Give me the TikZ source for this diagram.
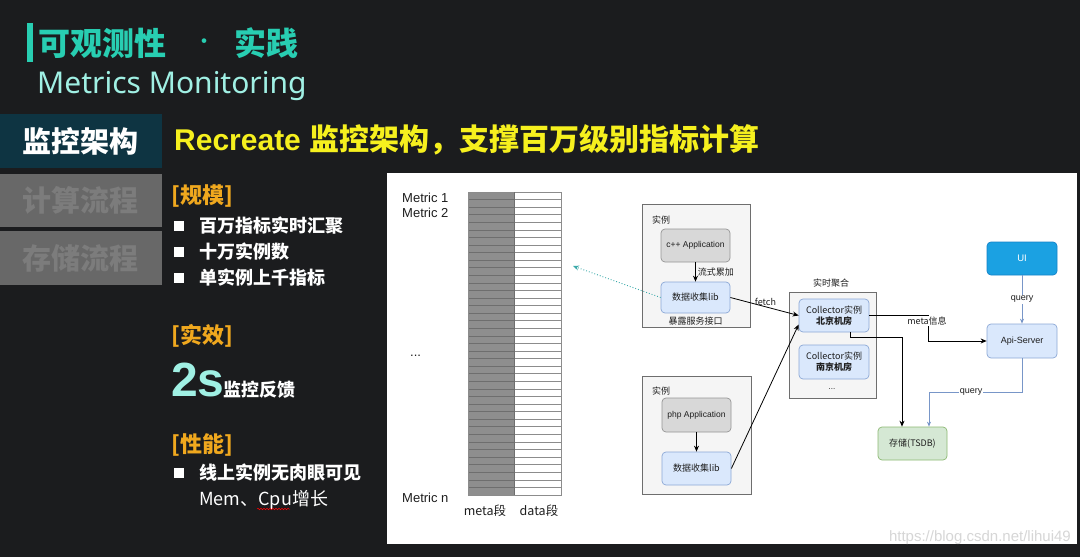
\documentclass[tikz,border=0pt]{standalone}
\usepackage{fontspec}
\setmainfont{Liberation Sans}
\newfontfamily\cjk{Noto Sans CJK SC}
\newfontfamily\notosans{Noto Sans}
\usetikzlibrary{arrows.meta,calc,decorations.pathmorphing}
\definecolor{bgc}{RGB}{27,28,30}
\definecolor{titleteal}{RGB}{40,206,178}
\definecolor{lightcyan}{RGB}{160,240,228}
\definecolor{tabdark}{RGB}{14,52,66}
\definecolor{tabgray}{RGB}{104,104,104}
\definecolor{tabtext}{RGB}{124,124,124}
\definecolor{yel}{RGB}{246,240,30}
\definecolor{org}{RGB}{240,168,30}
\definecolor{instfill}{RGB}{245,245,245}
\definecolor{instdraw}{RGB}{110,110,110}
\definecolor{appfill}{RGB}{216,216,216}
\definecolor{appdraw}{RGB}{150,150,150}
\definecolor{libfill}{RGB}{218,232,252}
\definecolor{libdraw}{RGB}{140,168,214}
\definecolor{uifill}{RGB}{27,161,226}
\definecolor{uidraw}{RGB}{20,130,200}
\definecolor{tsfill}{RGB}{213,232,212}
\definecolor{tsdraw}{RGB}{140,185,115}
\definecolor{qblue}{RGB}{120,150,200}
\definecolor{dotteal}{RGB}{60,170,170}
\definecolor{metafill}{RGB}{142,142,142}
\definecolor{metaline}{RGB}{110,110,110}
\definecolor{dataline}{RGB}{140,140,140}
\definecolor{dtext}{RGB}{30,30,30}
\tikzset{
  tabon/.style={fill=tabdark, minimum width=162, minimum height=54, inner sep=0, text=white, font=\cjk\bfseries\fontsize{29}{32}\selectfont},
  taboff/.style={fill=tabgray, minimum width=162, minimum height=54, inner sep=0, text=tabtext, font=\cjk\bfseries\fontsize{29}{32}\selectfont},
  sect/.style={anchor=west, inner sep=0, text=org, font=\cjk\bfseries\fontsize{22}{24}\selectfont},
  bsq/.style={fill=white, minimum size=10, inner sep=0},
  item/.style={anchor=west, inner sep=0, text=white, font=\cjk\bfseries\fontsize{18}{20}\selectfont},
  mlabel/.style={inner sep=0, text=dtext, font=\fontsize{13}{15}\selectfont},
  inst/.style={draw=instdraw, fill=instfill, line width=0.7, inner sep=0},
  appbox/.style={draw=appdraw, fill=appfill, rounded corners=4, line width=0.7, inner sep=0, text=dtext, font=\fontsize{8.5}{10}\selectfont},
  libbox/.style={draw=libdraw, fill=libfill, rounded corners=4, line width=0.7, inner sep=0, text=dtext, align=center, font=\cjk\fontsize{9}{11}\selectfont},
  small/.style={inner sep=1, text=dtext, font=\cjk\fontsize{9}{11}\selectfont},
  conn/.style={draw=black, line width=0.8, -{Stealth[length=6pt,width=5pt]}},
  qconn/.style={draw=qblue, line width=0.8, -{Stealth[length=5pt,width=4pt]}}
}
\begin{document}
\begin{tikzpicture}[x=1pt,y=-1pt]
\useasboundingbox (0,0) rectangle (1080,557);
\fill[bgc] (0,0) rectangle (1080,557);

% title
\fill[titleteal] (27,23) rectangle (33,62);
\node[anchor=west, inner sep=0, text=titleteal, font=\cjk\bfseries\fontsize{32}{34}\selectfont] (t1) at (38,43) {可观测性};
\node[inner sep=0, text=titleteal, font=\cjk\fontsize{22}{24}\selectfont] (t2) at (204,44) {·};
\node[anchor=west, inner sep=0, text=titleteal, font=\cjk\bfseries\fontsize{32}{34}\selectfont] (t3) at (234,43) {实践};
\node[anchor=base west, inner sep=0, text=lightcyan, font=\notosans\fontsize{30}{32}\selectfont] (t4) at (37,93) {Metrics Monitoring};

% tabs
\node[tabon] (tab1) at (81,141) {监控架构};
\node[taboff, minimum height=53] (tab2) at (81,200.5) {计算流程};
\node[taboff] (tab3) at (81,258) {存储流程};

% heading
\node[anchor=west, inner sep=0, text=yel, font=\bfseries\fontsize{30}{34}\selectfont] (head) at (174,140) {Recreate {\cjk 监控架构，支撑百万级别指标计算}};

% scale
\node[sect] (s1) at (171,196) {[规模]};
\node[bsq] (b1) at (179,226) {};
\node[item] (i1) at (199,226) {百万指标实时汇聚};
\node[bsq] (b2) at (179,252) {};
\node[item] (i2) at (199,252) {十万实例数};
\node[bsq] (b3) at (179,278) {};
\node[item] (i3) at (199,278) {单实例上千指标};

% effect
\node[sect] (s2) at (171,336) {[实效]};
\node[anchor=base west, inner sep=0, text=lightcyan, font=\bfseries\fontsize{48}{50}\selectfont] (two) at (171,396) {2s};
\node[anchor=base west, inner sep=0, text=white, font=\cjk\bfseries\fontsize{18}{20}\selectfont] (fb) at (223,396) {监控反馈};

% perf
\node[sect] (s3) at (171,445) {[性能]};
\node[bsq] (b4) at (179,473) {};
\node[item] (i4) at (199,473) {线上实例无肉眼可见};
\node[item, font=\cjk\fontsize{18}{20}\selectfont] (i5) at (199,500) {Mem、Cpu增长};
\draw[red, line width=0.5, decorate, decoration={snake, amplitude=0.8, segment length=3}] (257,509) -- (290,509);

% white panel
\fill[white] (387,173) rectangle (1077,544);

% metric column
\fill[metafill] (468,192) rectangle (514,495);
\foreach \i in {0,...,40} {
  \draw[metaline, line width=0.7] (468,{192+\i*7.575}) -- (514,{192+\i*7.575});
  \draw[dataline, line width=0.7] (514,{192+\i*7.575}) -- (561,{192+\i*7.575});
}
\draw[dataline, line width=0.7] (468,192) rectangle (561,495);
\draw[metaline, line width=0.7] (514,192) -- (514,495);

\node[mlabel, anchor=west] (m1) at (402,198) {Metric 1};
\node[mlabel, anchor=west] (m2) at (402,213) {Metric 2};
\node[mlabel, anchor=west] (md) at (410,356) {...};
\node[mlabel, anchor=west] (mn) at (402,498) {Metric n};
\node[mlabel, font=\cjk\fontsize{12.5}{14}\selectfont] (metaseg) at (485,511) {meta段};
\node[mlabel, font=\cjk\fontsize{12.5}{14}\selectfont] (dataseg) at (539,511) {data段};

% instance 1
\node[inst, minimum width=108, minimum height=123] (inst1) at (696,265.5) {};
\node[small, anchor=west] (inst1l) at (651,220) {实例};
\node[appbox, minimum width=69, minimum height=33] (cpp) at (695.5,245.5) {c++ Application};
\node[libbox, minimum width=69, minimum height=31] (lib1) at (695.5,297.5) {数据收集lib};
\node[small] (expose) at (695.5,321) {暴露服务接口};
\draw[conn] (cpp) -- (lib1) node[midway, right, small, xshift=1] (acc) {流式累加};

% instance 2
\node[inst, minimum width=109, minimum height=118] (inst2) at (696.5,435) {};
\node[small, anchor=west] (inst2l) at (651,391) {实例};
\node[appbox, minimum width=69, minimum height=34] (php) at (696.5,415) {php Application};
\node[libbox, minimum width=69, minimum height=33] (lib2) at (696.5,468.5) {数据收集lib};
\draw[conn] (php) -- (lib2);

% aggregation
\node[inst, minimum width=87, minimum height=106] (agg) at (832.5,345) {};
\node[small] (aggl) at (831,283) {实时聚合};
\node[libbox, minimum width=70, minimum height=33] (col1) at (834,315.5) {Collector实例\\\bfseries 北京机房};
\node[libbox, minimum width=70, minimum height=34] (col2) at (834,362) {Collector实例\\\bfseries 南京机房};
\node[small, font=\fontsize{8}{9}\selectfont] (aggdots) at (832,389) {...};

% right side
\node[libbox, minimum width=70, minimum height=33, fill=uifill, draw=uidraw, text=white, font=\fontsize{9.5}{11}\selectfont] (ui) at (1022,258.5) {UI};
\node[libbox, minimum width=70, minimum height=34, font=\fontsize{9}{11}\selectfont] (api) at (1022,341) {Api-Server};
\node[libbox, minimum width=69, minimum height=33, fill=tsfill, draw=tsdraw] (tsdb) at (912.5,443.5) {存储(TSDB)};

% connectors
\coordinate (dotend) at (573,266);
\draw[dotteal, line width=0.9, dotted, -{Stealth[length=6pt,width=5pt]}] (lib1.west) -- (dotend);
\draw[conn] (lib1.east) -- (col1.west) node[pos=0.5, above, small, xshift=1, yshift=-1] (fetch) {fetch};
\draw[conn] (lib2.east) -- ($(col1.west)+(0,9)$);
\draw[conn] (col1.east) -- ++(59,0) |- (api.west);
\node[small, fill=white, inner sep=1] (metainfo) at (927,321) {meta信息};
\draw[conn] ($(col1.south)+(16,0)$) -- ++(0,5) -| ($(tsdb.north)+(-10.5,0)$);
\draw[qconn] (ui.south) -- (api.north) node[midway, small, fill=white, font=\fontsize{9}{11}\selectfont] (q1) {query};
\draw[qconn] (api.south) -- ++(0,34) -| ($(tsdb.north)+(16.5,0)$);
\node[small, fill=white, font=\fontsize{9}{11}\selectfont] (q2) at (971,392) {query};

% watermark
\node[anchor=east, inner sep=0, text=gray!35, opacity=0.9, font=\fontsize{15}{17}\selectfont] (wm) at (1071,538) {https://blog.csdn.net/lihui49};
\end{tikzpicture}
\end{document}
